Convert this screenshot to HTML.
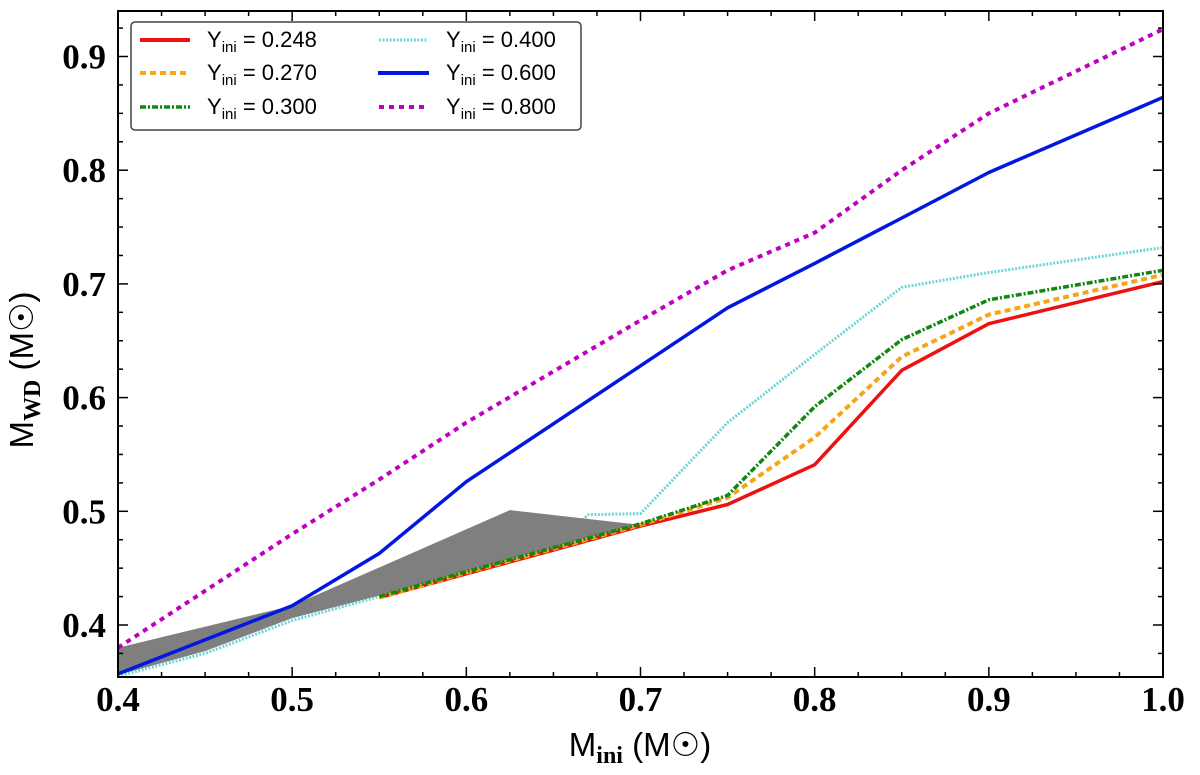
<!DOCTYPE html>
<html><head><meta charset="utf-8"><style>
body{margin:0;background:#fff;}
svg{display:block;}
.tk{font-family:"Liberation Serif",serif;font-weight:bold;font-size:35px;fill:#000;}
.lab{font-family:"Liberation Sans",sans-serif;font-size:33px;fill:#000;}
.leg{font-family:"Liberation Sans",sans-serif;font-size:22px;fill:#000;}
</style></head><body>
<svg id="chart" width="1200" height="775">
</svg>
<script>
const xs = [0.4,0.45,0.5,0.55,0.6,0.65,0.67,0.7,0.75,0.8,0.85,0.9,1.0];
const ser248 = [null,null,null,0.424,0.445,0.466,null,0.487,0.506,0.541,0.624,0.665,0.702];
const ser270 = [null,null,null,0.424,0.446,0.467,null,0.488,0.512,0.565,0.636,0.673,0.708];
const ser300 = [null,null,null,0.425,0.447,0.468,null,0.489,0.514,0.592,0.651,0.686,0.712];
const ser400 = [0.355,0.375,0.404,0.425,0.447,0.470,0.497,0.498,0.578,0.638,0.697,0.710,0.732];
const ser600 = [0.357,null,0.417,0.463,0.526,0.577,null,0.628,0.679,0.718,0.758,0.798,0.864];
const ser800 = [0.380,null,0.480,0.528,0.578,null,null,0.668,0.712,0.745,0.800,0.850,0.924];
const bandX = [0.4,0.5,0.625,0.7,0.55,0.5,0.45,0.4];
const bandY = [0.380,0.417,0.501,0.488,0.426,0.406,0.377,0.356];
const xTicks = [0.4,0.5,0.6,0.7,0.8,0.9,1.0];
const xTickLabels = ["0.4","0.5","0.6","0.7","0.8","0.9","1.0"];
const yTicks = [0.4,0.5,0.6,0.7,0.8,0.9];
const yTickLabels = ["0.4","0.5","0.6","0.7","0.8","0.9"];

const L=118,R=1163,T=11,B=677;
const X=v=>L+(v-0.4)/0.6*(R-L);
const Y=v=>625-(v-0.4)*1137;
const NS="http://www.w3.org/2000/svg";
const svg=document.getElementById('chart');
function mk(tag,attrs,parent){const e=document.createElementNS(NS,tag);for(const k in attrs)e.setAttribute(k,attrs[k]);(parent||svg).appendChild(e);return e;}
const clip=mk('clipPath',{id:'cp'});mk('rect',{x:L,y:T,width:R-L,height:B-T},clip);

function drawLine(s){
 let p='';let first=true;
 s.v.forEach((v,i)=>{if(v==null)return;p+=(first?'M':'L')+X(xs[i]).toFixed(1)+','+Y(v).toFixed(1);first=false;});
 const e=mk('path',{d:p,fill:'none',stroke:s.c,'stroke-width':s.w,'stroke-dasharray':s.da,'clip-path':'url(#cp)','stroke-linejoin':'round'});
 
 
}
drawLine({v:ser400,c:'#6ed6d6',w:3,da:'2,1.5',n:'line-y0400'});

let d=bandX.map((x,i)=>(i?'L':'M')+X(x)+','+Y(bandY[i])).join('')+'Z';
const band=mk('path',{d:d,fill:'#7f7f7f',stroke:'none','clip-path':'url(#cp)'});



[
 {v:ser800,c:'#c000c0',w:4,da:'5,5',n:'line-y0800'},
 {v:ser600,c:'#0018e0',w:3.5,da:'',n:'line-y0600'},
 {v:ser248,c:'#ee1111',w:3.5,da:'',n:'line-y0248'},
 {v:ser270,c:'#f5a516',w:4,da:'6,4',n:'line-y0270'},
 {v:ser300,c:'#118811',w:3.5,da:'6,2,2,2',n:'line-y0300'}
].forEach(drawLine);

const fr=mk('rect',{x:L,y:T,width:R-L,height:B-T,fill:'none',stroke:'#000','stroke-width':2});



for(let v=0.4;v<=1.0001;v+=0.025){
 const major=Math.abs((v*10)-Math.round(v*10))<1e-6;
 const len=major?10:5;
 mk('line',{x1:X(v),x2:X(v),y1:B,y2:B-len,stroke:'#000','stroke-width':1.5});
 mk('line',{x1:X(v),x2:X(v),y1:T,y2:T+len,stroke:'#000','stroke-width':1.5});
}
xTicks.forEach((v,i)=>{
 const t=mk('text',{x:X(v),y:711,'text-anchor':'middle',class:'tk'});t.textContent=xTickLabels[i];
 
 
});
for(let v=0.35;v<=0.94;v+=0.025){
 if(Y(v)>B||Y(v)<T)continue;
 const major=Math.abs((v*10)-Math.round(v*10))<1e-6;
 const len=major?10:5;
 mk('line',{x1:L,x2:L+len,y1:Y(v),y2:Y(v),stroke:'#000','stroke-width':1.5});
 mk('line',{x1:R,x2:R-len,y1:Y(v),y2:Y(v),stroke:'#000','stroke-width':1.5});
}
yTicks.forEach((v,i)=>{
 const t=mk('text',{x:106,y:Y(v)+12,'text-anchor':'end',class:'tk'});t.textContent=yTickLabels[i];
 
 
});
</script>
<svg style="position:absolute;left:0;top:0" width="1200" height="775">
<text class="lab" x="640" y="756" text-anchor="middle">M<tspan font-family="Liberation Serif" font-weight="bold" font-size="24" dy="7">ini</tspan><tspan dy="-7"> (M☉)</tspan></text>
<text class="lab" transform="translate(33,370) rotate(-90)" text-anchor="middle">M<tspan font-family="Liberation Serif" font-weight="bold" font-size="24" dy="7">WD</tspan><tspan dy="-7"> (M☉)</tspan></text>
<g>
<rect x="131" y="22" width="450" height="108" rx="4" fill="#fff" stroke="#444" stroke-width="1.5"/>
<line x1="140" y1="40" x2="190" y2="40" stroke="#ee1111" stroke-width="4"/>
<text class="leg" x="207" y="47">Y<tspan font-size="15" dy="5">ini</tspan><tspan dy="-5"> = 0.248</tspan></text>
<line x1="140" y1="73" x2="190" y2="73" stroke="#f5a516" stroke-width="4" stroke-dasharray="6,4"/>
<text class="leg" x="207" y="80">Y<tspan font-size="15" dy="5">ini</tspan><tspan dy="-5"> = 0.270</tspan></text>
<line x1="140" y1="107" x2="190" y2="107" stroke="#118811" stroke-width="3.5" stroke-dasharray="6,2,2,2"/>
<text class="leg" x="207" y="114">Y<tspan font-size="15" dy="5">ini</tspan><tspan dy="-5"> = 0.300</tspan></text>
<line x1="379" y1="40" x2="427" y2="40" stroke="#6ed6d6" stroke-width="3" stroke-dasharray="2,1.5"/>
<text class="leg" x="446" y="47">Y<tspan font-size="15" dy="5">ini</tspan><tspan dy="-5"> = 0.400</tspan></text>
<line x1="378" y1="73" x2="429" y2="73" stroke="#0018e0" stroke-width="4"/>
<text class="leg" x="446" y="80">Y<tspan font-size="15" dy="5">ini</tspan><tspan dy="-5"> = 0.600</tspan></text>
<line x1="379" y1="107" x2="427" y2="107" stroke="#c000c0" stroke-width="4" stroke-dasharray="5,5"/>
<text class="leg" x="446" y="114">Y<tspan font-size="15" dy="5">ini</tspan><tspan dy="-5"> = 0.800</tspan></text>
</g>
</svg>
</body></html>
